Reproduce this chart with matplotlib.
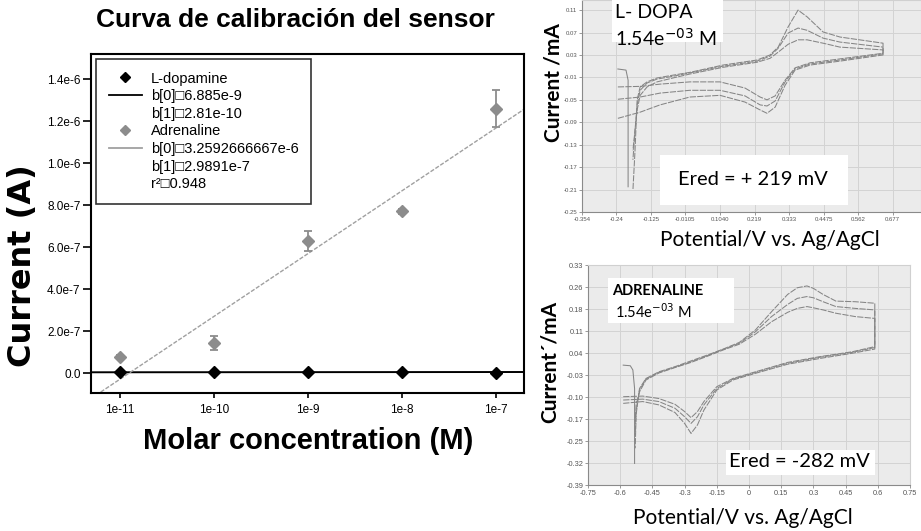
import numpy as np, matplotlib; matplotlib.use("Agg")
import matplotlib.pyplot as plt
from matplotlib.lines import Line2D
from matplotlib.ticker import NullLocator

# ---------------- calibration curve (left) ----------------
conc = [1e-11, 1e-10, 1e-9, 1e-8, 1e-7]
conc_labels = ["1e-11", "1e-10", "1e-9", "1e-8", "1e-7"]
ldopa_cur = [0.3e-8, 0.5e-8, 0.3e-8, 0.5e-8, 0.2e-8]
adr_cur = [0.76e-7, 1.43e-7, 6.30e-7, 7.70e-7, 1.26e-6]
adr_err = [0.10e-7, 0.32e-7, 0.47e-7, 0.10e-7, 0.88e-7]
ldopa_b = [6.885e-9, 2.81e-10]
adr_b = [3.2592666667e-6, 2.9891e-7]
cal_yticks = [0, 2e-7, 4e-7, 6e-7, 8e-7, 1e-6, 1.2e-6, 1.4e-6]
cal_ylabels = ["0.0", "2.0e-7", "4.0e-7", "6.0e-7", "8.0e-7", "1.0e-6", "1.2e-6", "1.4e-6"]
leg_labels = ["L-dopamine", "b[0]\u25a16.885e-9", "b[1]\u25a12.81e-10", "Adrenaline",
              "b[0]\u25a13.2592666667e-6", "b[1]\u25a12.9891e-7", "r\u00b2\u25a10.948"]

# ---------------- L-DOPA voltammogram (top right) ----------------
ld_fwd_v = [-0.235, -0.161, -0.095, 0.004, 0.104, 0.187, 0.237, 0.260, 0.287, 0.320, 0.353, 0.403, 0.502, 0.645]
ld_fwd_i = [[-0.027, -0.026, -0.022, -0.018, -0.018, -0.029, -0.045, -0.050, -0.043, -0.015, 0.007, 0.016, 0.023, 0.033],
            [-0.049, -0.045, -0.038, -0.033, -0.033, -0.043, -0.059, -0.061, -0.052, -0.018, 0.005, 0.014, 0.021, 0.032],
            [-0.083, -0.072, -0.059, -0.045, -0.042, -0.054, -0.068, -0.074, -0.063, -0.024, 0.003, 0.012, 0.019, 0.030]]
ld_rev_v = [0.645, 0.502, 0.446, 0.393, 0.363, 0.330, 0.297, 0.270, 0.227, 0.114, 0.004, -0.052, -0.105, -0.138,
            -0.161, -0.171, -0.178, -0.185]
ld_rev_i = [[0.051, 0.062, 0.071, 0.098, 0.110, 0.080, 0.044, 0.030, 0.021, 0.012, -0.001, -0.006, -0.011, -0.018,
             -0.027, -0.050, -0.140, -0.211],
            [0.044, 0.053, 0.060, 0.074, 0.078, 0.069, 0.042, 0.028, 0.019, 0.010, -0.002, -0.008, -0.013, -0.020,
             -0.033, -0.059, -0.104, -0.157],
            [0.039, 0.044, 0.051, 0.057, 0.057, 0.049, 0.035, 0.024, 0.017, 0.008, -0.004, -0.011, -0.018, -0.027,
             -0.042, -0.068, -0.104, -0.140]]
ld_hook_v = [-0.235, -0.208, -0.201, -0.201]
ld_hook_i = [0.005, 0.003, -0.015, -0.205]
ld_xticks = [-0.354, -0.24, -0.125, -0.011, 0.104, 0.219, 0.333, 0.448, 0.562, 0.677]
ld_xlabels = ["-0.354", "-0.24", "-0.125", "-0.0105", "0.1040", "0.219", "0.333", "0.4475", "0.562", "0.677"]
ld_yticks = [-0.25, -0.21, -0.17, -0.13, -0.09, -0.05, -0.01, 0.03, 0.07, 0.11]
ld_ylabels = ["-0.25", "-0.21", "-0.17", "-0.13", "-0.09", "-0.05", "-0.01", "0.03", "0.07", "0.11"]

# ---------------- Adrenaline voltammogram (bottom right) ----------------
ad_fwd_v = [-0.586, -0.495, -0.420, -0.345, -0.300, -0.270, -0.240, -0.210, -0.150, -0.075, 0.030, 0.180, 0.330,
            0.480, 0.586]
ad_fwd_i = [[-0.104, -0.102, -0.110, -0.129, -0.153, -0.173, -0.153, -0.120, -0.071, -0.044, -0.022, 0.009, 0.028,
             0.044, 0.061],
            [-0.115, -0.112, -0.120, -0.142, -0.170, -0.192, -0.170, -0.131, -0.077, -0.046, -0.024, 0.006, 0.026,
             0.042, 0.058],
            [-0.126, -0.120, -0.131, -0.156, -0.192, -0.225, -0.197, -0.148, -0.082, -0.049, -0.027, 0.003, 0.022,
             0.039, 0.053]]
ad_rev_v = [0.586, 0.495, 0.405, 0.345, 0.300, 0.270, 0.225, 0.180, 0.105, 0.030, -0.045, -0.120, -0.195, -0.270,
            -0.345, -0.420, -0.480, -0.510, -0.526, -0.530]
ad_rev_i = [[0.204, 0.209, 0.211, 0.233, 0.253, 0.261, 0.255, 0.233, 0.176, 0.116, 0.075, 0.053, 0.033, 0.014,
             -0.005, -0.022, -0.044, -0.077, -0.164, -0.274],
            [0.182, 0.187, 0.193, 0.209, 0.222, 0.226, 0.220, 0.200, 0.160, 0.110, 0.072, 0.052, 0.031, 0.011,
             -0.007, -0.024, -0.046, -0.082, -0.153, -0.230],
            [0.154, 0.160, 0.171, 0.182, 0.189, 0.193, 0.187, 0.174, 0.143, 0.102, 0.069, 0.050, 0.029, 0.009,
             -0.008, -0.026, -0.049, -0.088, -0.131, -0.186]]
ad_hook_v = [-0.586, -0.553, -0.541, -0.533, -0.533]
ad_hook_i = [0.000, -0.002, -0.016, -0.077, -0.324]
ad_xticks = [-0.75, -0.6, -0.45, -0.3, -0.15, 0, 0.15, 0.3, 0.45, 0.6, 0.75]
ad_xlabels = ["-0.75", "-0.6", "-0.45", "-0.3", "-0.15", "0", "0.15", "0.3", "0.45", "0.6", "0.75"]
ad_yticks = [-0.395, -0.3225, -0.25, -0.1775, -0.105, -0.0325, 0.04, 0.1125, 0.185, 0.2575, 0.33]
ad_ylabels = ["-0.39", "-0.32", "-0.25", "-0.17", "-0.10", "-0.03", "0.04", "0.11", "0.18", "0.26", "0.33"]

W, H = 921, 531
fig = plt.figure(figsize=(W/100, H/100), dpi=100)
def rect(l, t, r, b):
    return [l/W, 1-b/H, (r-l)/W, (b-t)/H]

# ===== left calibration panel =====
plt.rcParams['font.family'] = ['Liberation Sans', 'DejaVu Sans']
ax = fig.add_axes(rect(91, 54, 524, 393))
ax.set_xscale('log')
xl = (10**-11.31, 10**-6.70)
ax.set_xlim(*xl); ax.set_ylim(-0.95e-7, 1.52e-6)
xf = np.array(xl)
ax.plot(xf, ldopa_b[0]+ldopa_b[1]*np.log10(xf), color='k', lw=1.4, zorder=2)
ax.plot(xf, adr_b[0]+adr_b[1]*np.log10(xf), color='#a0a0a0', lw=1.0, ls=(0, (3, 1.2)), zorder=2)
ax.errorbar(conc, adr_cur, yerr=adr_err, fmt='D', color='#8c8c8c', ms=6, capsize=3, elinewidth=1.3,
            capthick=1.3, zorder=3)
ax.plot(conc, ldopa_cur, 'D', color='k', ms=6, zorder=4)
ax.set_yticks(cal_yticks); ax.set_yticklabels(cal_ylabels, fontsize=8.5)
ax.set_xticks(conc); ax.set_xticklabels(conc_labels, fontsize=8.5)
ax.xaxis.set_minor_locator(NullLocator())
ax.tick_params(axis='y', length=6, width=1.2, pad=1.5)
ax.tick_params(axis='x', length=3.6, width=1.2, pad=4)
for s in ax.spines.values(): s.set_linewidth(1.5)
blank = Line2D([], [], ls='none')
hands = [Line2D([], [], ls='none', marker='D', color='k', ms=5), Line2D([], [], color='k', lw=1.3), blank,
         Line2D([], [], ls='none', marker='D', color='#8c8c8c', ms=5), Line2D([], [], color='#a0a0a0', lw=1.3), blank,
         blank]
lg = ax.legend(hands, leg_labels, loc='upper left', fontsize=10.5, frameon=True, fancybox=False,
               handlelength=2.3, handletextpad=0.6, labelspacing=0.25, borderpad=0.85, borderaxespad=0.35)
lg.get_frame().set_edgecolor('k'); lg.get_frame().set_linewidth(1.2)
fig.text(295/W, 1-20/H, "Curva de calibración del sensor", ha='center', va='center', fontsize=19, fontweight='bold')
fig.text(308/W, 1-441/H, "Molar concentration (M)", ha='center', va='center', fontsize=21, fontweight='bold')
fig.text(23/W, 1-266/H, "Current (A)", ha='center', va='center', rotation=90, fontsize=23, fontweight='bold',
         family='DejaVu Sans')

# ===== CV panels =====
cv_col = '#858585'
def cv_panel(r, xlim, ylim, xt, xtl, yt, ytl, fs):
    a = fig.add_axes(r)
    a.set_facecolor('#ebebeb')
    a.set_xlim(*xlim); a.set_ylim(*ylim)
    a.set_xticks(xt); a.set_xticklabels(xtl, fontsize=fs, color='#555555')
    a.set_yticks(yt); a.set_yticklabels(ytl, fontsize=fs, color='#555555')
    a.grid(True, color='#d3d3d3', lw=0.7)
    a.set_axisbelow(True)
    a.tick_params(length=2, width=0.6, color='#888888', pad=1.5)
    for k, s in a.spines.items():
        s.set_color('#8a8a8a' if k in ('left', 'bottom') else '#d0d0d0'); s.set_linewidth(0.8)
    return a

a1 = cv_panel(rect(582, 0, 921, 212), (-0.354, 0.771), (-0.25, 0.128), ld_xticks, ld_xlabels, ld_yticks, ld_ylabels,
              4.3)
for fi, ri in zip(ld_fwd_i, ld_rev_i):
    a1.plot(ld_fwd_v + ld_rev_v, fi + ri, color=cv_col, lw=0.75, ls=(0, (6, 1.2)))
a1.plot(ld_hook_v, ld_hook_i, color=cv_col, lw=0.75)
a1.add_patch(plt.Rectangle((0.088, 0.80), 0.328, 0.21, transform=a1.transAxes, fc='white', ec='none', zorder=5,
                           clip_on=False))
a1.text(0.097, 0.943, "L- DOPA", transform=a1.transAxes, fontsize=14, family='Lato', va='center', zorder=6)
a1.text(0.097, 0.821, "1.54e$^{-03}$ M", transform=a1.transAxes, fontsize=14, family='Lato', va='center', zorder=6)
a1.add_patch(plt.Rectangle((0.230, 0.033), 0.555, 0.236, transform=a1.transAxes, fc='white', ec='none', zorder=5))
a1.text(0.504, 0.151, "Ered = + 219 mV", transform=a1.transAxes, fontsize=14.5, family='Lato', ha='center',
        va='center', zorder=6)
fig.text(553/W, 1-83/H, "Current /mA", rotation=90, ha='center', va='center', fontsize=15, family='Lato',
         fontweight='bold')
fig.text(770/W, 1-240/H, "Potential/V vs. Ag/AgCl", ha='center', va='center', fontsize=15, family='Lato')

a2 = cv_panel(rect(588, 265, 910, 485), (-0.75, 0.75), (-0.395, 0.33), ad_xticks, ad_xlabels, ad_yticks, ad_ylabels,
              5.3)
for fi, ri in zip(ad_fwd_i, ad_rev_i):
    a2.plot(ad_fwd_v + ad_rev_v, fi + ri, color=cv_col, lw=0.75, ls=(0, (6, 1.2)))
a2.plot(ad_hook_v, ad_hook_i, color=cv_col, lw=0.75)
a2.add_patch(plt.Rectangle((0.062, 0.736), 0.39, 0.205, transform=a2.transAxes, fc='white', ec='none', zorder=5))
a2.text(0.075, 0.882, "ADRENALINE", transform=a2.transAxes, fontsize=10.5, family='Lato', fontweight='bold',
        va='center', zorder=6)
a2.text(0.084, 0.786, "1.54e$^{-03}$ M", transform=a2.transAxes, fontsize=10.5, family='Lato', va='center', zorder=6)
a2.add_patch(plt.Rectangle((0.430, 0.045), 0.46, 0.114, transform=a2.transAxes, fc='white', ec='none', zorder=5))
a2.text(0.657, 0.105, "Ered = -282 mV", transform=a2.transAxes, fontsize=14.5, family='Lato', ha='center',
        va='center', zorder=6)
fig.text(550/W, 1-362/H, "Current\u00b4/mA", rotation=90, ha='center', va='center', fontsize=15, family='Lato',
         fontweight='bold')
fig.text(743/W, 1-518/H, "Potential/V vs. Ag/AgCl", ha='center', va='center', fontsize=15, family='Lato')

plt.savefig("out.png", dpi=100)
